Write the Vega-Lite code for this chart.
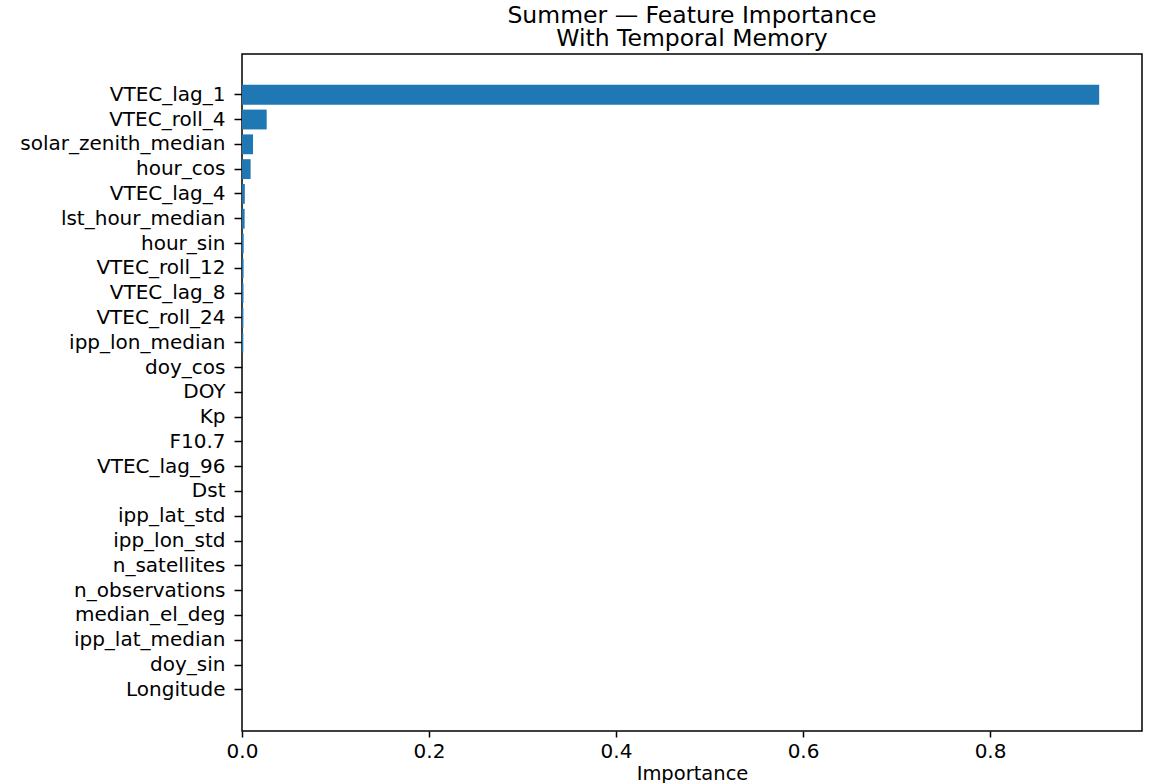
{
  "$schema": "https://vega.github.io/schema/vega-lite/v6.json",
  "autosize": {"type": "none"},
  "width": 900,
  "height": 677,
  "padding": {"left": 242, "top": 54, "right": 13, "bottom": 52},
  "background": "white",
  "config": {
    "font": "DejaVu Sans",
    "view": {"stroke": "black", "strokeWidth": 1.5},
    "axis": {"grid": false, "domainColor": "black", "tickColor": "black", "labelColor": "black", "titleColor": "black", "labelFont": "DejaVu Sans", "titleFont": "DejaVu Sans", "titleFontWeight": "normal", "domainWidth": 1.5, "tickWidth": 1.5}
  },
  "title": {
    "text": ["Summer — Feature Importance", "With Temporal Memory"],
    "font": "DejaVu Sans",
    "fontSize": 23.5,
    "fontWeight": "normal",
    "color": "black",
    "anchor": "middle",
    "lineHeight": 23,
    "offset": 4
  },
  "data": {
    "values": [
      {"feature": "VTEC_lag_1", "importance": 0.9167},
      {"feature": "VTEC_roll_4", "importance": 0.0264},
      {"feature": "solar_zenith_median", "importance": 0.0118},
      {"feature": "hour_cos", "importance": 0.0092},
      {"feature": "VTEC_lag_4", "importance": 0.0030},
      {"feature": "lst_hour_median", "importance": 0.0028},
      {"feature": "hour_sin", "importance": 0.0018},
      {"feature": "VTEC_roll_12", "importance": 0.0017},
      {"feature": "VTEC_lag_8", "importance": 0.0016},
      {"feature": "VTEC_roll_24", "importance": 0.0015},
      {"feature": "ipp_lon_median", "importance": 0.0014},
      {"feature": "doy_cos", "importance": 0},
      {"feature": "DOY", "importance": 0},
      {"feature": "Kp", "importance": 0},
      {"feature": "F10.7", "importance": 0},
      {"feature": "VTEC_lag_96", "importance": 0},
      {"feature": "Dst", "importance": 0},
      {"feature": "ipp_lat_std", "importance": 0},
      {"feature": "ipp_lon_std", "importance": 0},
      {"feature": "n_satellites", "importance": 0},
      {"feature": "n_observations", "importance": 0},
      {"feature": "median_el_deg", "importance": 0},
      {"feature": "ipp_lat_median", "importance": 0},
      {"feature": "doy_sin", "importance": 0},
      {"feature": "Longitude", "importance": 0}
    ]
  },
  "mark": {"type": "bar", "color": "#1f77b4"},
  "encoding": {
    "y": {
      "field": "feature",
      "type": "nominal",
      "sort": null,
      "scale": {"paddingInner": 0.2, "paddingOuter": 1, "range": [6, 670.6]},
      "axis": {"title": null, "labelFontSize": 20, "labelLimit": 400, "tickSize": 8, "labelPadding": 9, "domain": false}
    },
    "x": {
      "field": "importance",
      "type": "quantitative",
      "scale": {"domain": [0, 0.9625], "nice": false, "zero": true},
      "axis": {"title": "Importance", "values": [0, 0.2, 0.4, 0.6, 0.8], "format": ".1f", "labelFlush": false, "labelFontSize": 20, "titleFontSize": 19.5, "tickSize": 6, "labelPadding": 4, "titlePadding": 3, "domain": false}
    }
  }
}
